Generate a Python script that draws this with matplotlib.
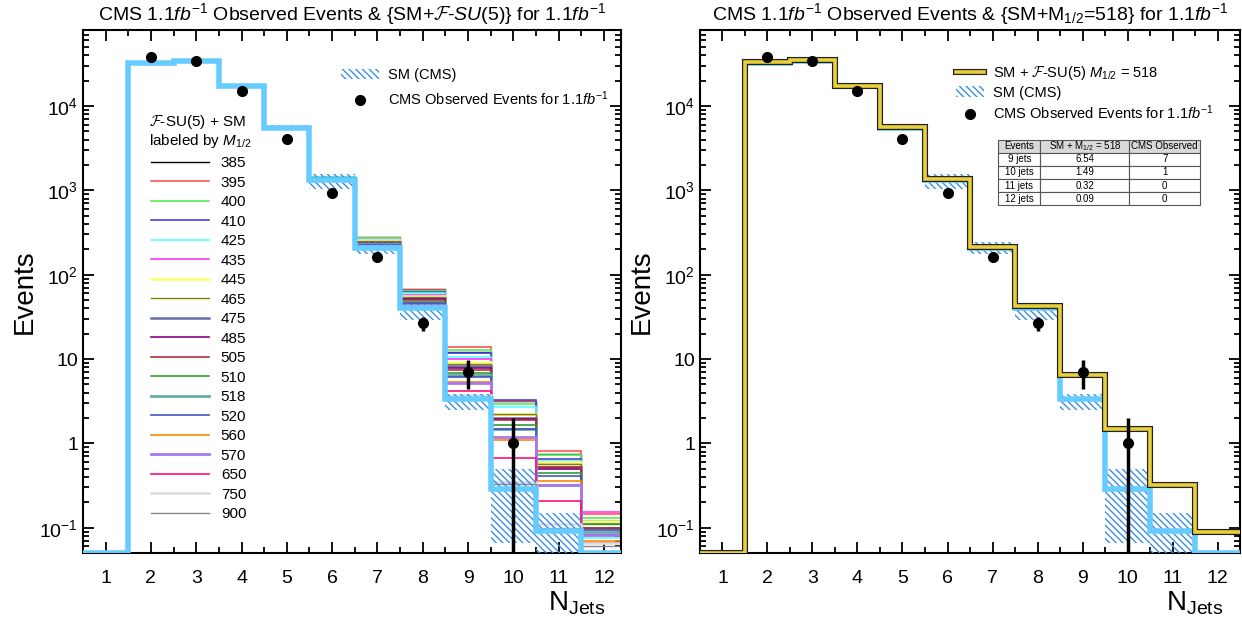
import numpy as np
import matplotlib
matplotlib.use("Agg")
import matplotlib.pyplot as plt
import matplotlib.patheffects as pe
from matplotlib.lines import Line2D
from matplotlib.patches import Patch
from matplotlib.ticker import FixedLocator, FixedFormatter, LogLocator, MultipleLocator, NullFormatter

plt.rcParams['font.family'] = ['Liberation Sans', 'DejaVu Sans']
plt.rcParams['mathtext.fontset'] = 'custom'
plt.rcParams['mathtext.rm'] = 'Liberation Sans'
plt.rcParams['mathtext.it'] = 'Liberation Sans:italic'
plt.rcParams['mathtext.bf'] = 'Liberation Sans:bold'
plt.rcParams['mathtext.cal'] = 'cmsy10'
plt.rcParams['hatch.linewidth'] = 1.0

# jet multiplicity bins
n_jets = [1, 2, 3, 4, 5, 6, 7, 8, 9, 10, 11, 12]
edges = np.arange(0.5, 13.0, 1.0)

# SM (CMS) expectation and its uncertainty band
sm = [0.05, 32600, 34500, 17200, 5560, 1310, 208, 40, 3.4, 0.29, 0.091, 0.05]
sm_lo = [np.nan, 31800, 33800, 16800, 5400, 1040, 175, 29, 2.5, 0.066, 0.05, np.nan]
sm_hi = [np.nan, 34200, 36200, 18000, 5900, 1550, 245, 45, 3.9, 0.49, 0.15, np.nan]

# CMS observed events (1.1 fb^-1)
obs_jets = [2, 3, 4, 5, 6, 7, 8, 9, 10]
obs = [38000, 34000, 15000, 4100, 940, 160, 26.5, 7, 1]

# SM + F-SU(5) for each M1/2, bins 6..12 (below 6 jets they sit on the SM line)
model_jets = [6, 7, 8, 9, 10, 11, 12]
m_half = [385, 395, 400, 410, 425, 435, 445, 465, 475, 485,
          505, 510, 518, 520, 560, 570, 650, 750, 900]
model_vals = [
    [1450, 278, 68, 12.2, 3.20, 0.75, 0.120],
    [1450, 275, 66, 13.7, 3.15, 0.81, 0.144],
    [1440, 270, 64, 12.8, 2.95, 0.72, 0.130],
    [1440, 265, 62, 11.7, 3.30, 0.65, 0.120],
    [1430, 262, 60, 10.7, 2.70, 0.61, 0.075],
    [1420, 258, 58, 10.0, 2.15, 0.57, 0.153],
    [1420, 255, 56, 9.3, 2.25, 0.60, 0.120],
    [1410, 250, 55, 8.8, 2.25, 0.57, 0.110],
    [1400, 245, 53, 8.3, 2.00, 0.53, 0.100],
    [1400, 240, 52, 7.8, 1.95, 0.50, 0.083],
    [1390, 235, 50, 7.5, 1.88, 0.53, 0.100],
    [1390, 232, 48, 6.9, 1.64, 0.45, 0.110],
    [1380, 228, 46, 6.54, 1.49, 0.32, 0.090],
    [1380, 225, 46, 6.2, 1.46, 0.41, 0.095],
    [1370, 220, 44, 5.4, 1.11, 0.36, 0.070],
    [1370, 218, 44, 5.2, 1.20, 0.32, 0.083],
    [1350, 215, 43, 4.2, 0.67, 0.21, 0.066],
    [1330, 212, 42, 3.7, 0.35, 0.11, 0.066],
    [1320, 210, 41, 3.5, 0.33, 0.10, 0.060],
]
model_colors = ['#000000', '#ff5555', '#55ee55', '#4444dd', '#55ffff', '#ff33ff',
                '#ffff66', '#808000', '#6a6aaa', '#880088', '#aa3333', '#339933',
                '#66aaaa', '#4455bb', '#ff8800', '#aa77ee', '#ff1177', '#dddddd', '#888888']
model_lw = [1.0, 1.2, 1.2, 1.2, 1.2, 1.2, 1.8, 1.0, 1.8, 1.2,
            1.2, 1.2, 2.0, 1.2, 1.2, 2.0, 1.2, 1.8, 1.0]

# SM + F-SU(5) with M1/2 = 518, full range (right panel)
best = [0.05, 33000, 35000, 17300, 5600, 1350, 215, 42, 6.54, 1.49, 0.32, 0.09]

table_cols = ['Events', r'SM + M$_{1/2}$ = 518', 'CMS Observed']
table_rows = ['9 jets', '10 jets', '11 jets', '12 jets']
table_model = ['6.54', '1.49', '0.32', '0.09']
table_obs = ['7', '1', '0', '0']

SKY = '#66ccff'
HATCH = '#3a8ee6'
YELLOW = '#e8cf3c'
fb = r'$\mathit{fb}^{\mathregular{-1}}$'
FSU = r'$\mathcal{F}$'


def style_axes(ax, xmax):
    ax.set_yscale('log')
    ax.set_xlim(0.5, xmax)
    ax.set_ylim(0.05, 8e4)
    ax.xaxis.set_major_locator(FixedLocator(n_jets))
    ax.xaxis.set_minor_locator(MultipleLocator(0.5))
    ax.yaxis.set_major_locator(FixedLocator([0.1, 1, 10, 100, 1e3, 1e4]))
    ax.yaxis.set_major_formatter(FixedFormatter(
        [r'$\mathregular{10^{-1}}$', '1', '10', r'$\mathregular{10^{2}}$',
         r'$\mathregular{10^{3}}$', r'$\mathregular{10^{4}}$']))
    ax.yaxis.set_minor_locator(LogLocator(base=10, subs=np.arange(2, 10)))
    ax.yaxis.set_minor_formatter(NullFormatter())
    ax.tick_params(which='both', direction='in', top=True, right=True, width=1.3, labelsize=14)
    ax.tick_params(which='major', length=8)
    ax.tick_params(which='minor', length=4)
    ax.tick_params(axis='x', pad=12)
    for s in ax.spines.values():
        s.set_linewidth(1.5)
    ax.set_ylabel('Events', fontsize=20, labelpad=1)
    ax.text(0.97, -0.07, r'$\mathregular{N_{Jets}}$', transform=ax.transAxes,
            ha='right', va='top', fontsize=20)


def draw_sm(ax):
    for j, lo, hi in zip(n_jets, sm_lo, sm_hi):
        if np.isnan(lo):
            continue
        ax.bar(j, hi - lo, bottom=lo, width=1.0, fill=False, hatch='\\\\\\\\\\',
               edgecolor=HATCH, linewidth=0, zorder=3)
    ax.stairs(sm, edges, baseline=None, color=SKY, linewidth=4, zorder=4)


def draw_obs(ax):
    err = np.sqrt(obs)
    lo = np.minimum(err, np.array(obs) - 1e-6)
    ax.errorbar(obs_jets, obs, yerr=[lo, err], fmt='o', color='black', markersize=7,
                elinewidth=2.5, capsize=0, zorder=6)


fig = plt.figure(figsize=(12.42, 6.35), dpi=100)
ax1 = fig.add_axes([0.0668, 0.129, 0.4333, 0.824])
ax2 = fig.add_axes([0.5636, 0.129, 0.4348, 0.824])

# ---- left panel
model_edges = np.arange(5.5, 13.0, 1.0)
handles = []
for vals, c, lw, m in zip(model_vals, model_colors, model_lw, m_half):
    ax1.stairs(vals, model_edges, baseline=None, color=c, linewidth=lw, zorder=2)
    handles.append(Line2D([], [], color=c, lw=lw, label=str(m)))
draw_sm(ax1)
draw_obs(ax1)
style_axes(ax1, 12.38)
ax1.set_title('CMS 1.1' + fb + ' Observed Events & {SM+' + FSU + r'-$\mathit{SU}$(5)} for 1.1' + fb,
              fontsize=14, pad=7)

leg1 = ax1.legend([Patch(facecolor='none', edgecolor=HATCH, hatch='\\\\\\\\\\', lw=0),
                   Line2D([], [], marker='o', ls='', color='black', markersize=7)],
                  ['SM (CMS)', 'CMS Observed Events for 1.1' + fb],
                  loc='upper left', bbox_to_anchor=(0.455, 0.952), frameon=False,
                  fontsize=10.5, handlelength=2.6, handletextpad=0.6, labelspacing=0.5)
ax1.add_artist(leg1)
ax1.text(0.122, 0.823, FSU + '-SU(5) + SM', transform=ax1.transAxes, fontsize=11,
         ha='left', va='center')
ax1.text(0.122, 0.787, r'labeled by $\mathit{M}_{1/2}$', transform=ax1.transAxes, fontsize=11,
         ha='left', va='center')
ax1.legend(handles=handles, fontsize=11, loc='upper left', bbox_to_anchor=(0.1, 0.785),
           frameon=False, handlelength=3.8, handletextpad=0.8, labelspacing=0.36)

# ---- right panel
ax2.stairs(best, edges, baseline=None, color=YELLOW, linewidth=2.6, zorder=5,
           path_effects=[pe.Stroke(linewidth=4.4, foreground='#222222'), pe.Normal()])
draw_sm(ax2)
draw_obs(ax2)
style_axes(ax2, 12.5)
ax2.set_title('CMS 1.1' + fb + ' Observed Events & {SM+M$_{1/2}$=518} for 1.1' + fb,
              fontsize=14, pad=7)
ax2.legend([Line2D([], [], color=YELLOW, lw=2.6,
                   path_effects=[pe.Stroke(linewidth=4.4, foreground='#222222'), pe.Normal()]),
            Patch(facecolor='none', edgecolor=HATCH, hatch='\\\\\\\\\\', lw=0),
            Line2D([], [], marker='o', ls='', color='black', markersize=7)],
           ['SM + ' + FSU + r'-SU(5) $\mathit{M}_{1/2}$ = 518', 'SM (CMS)',
            'CMS Observed Events for 1.1' + fb],
           loc='upper left', bbox_to_anchor=(0.45, 0.96), frameon=False,
           fontsize=10.5, handlelength=1.9, handletextpad=0.6, labelspacing=0.25)

tab = ax2.table(cellText=[list(r) for r in zip(table_rows, table_model, table_obs)],
                colLabels=table_cols, cellLoc='center', colWidths=[0.21, 0.44, 0.35],
                bbox=[0.552, 0.665, 0.374, 0.125])
tab.auto_set_font_size(False)
tab.set_fontsize(7)
for (r, c), cell in tab.get_celld().items():
    cell.set_linewidth(0.8)
    cell.set_edgecolor('#555555')
    if r == 0:
        cell.set_facecolor('#d9d9d9')

fig.savefig('out.png', dpi=100)
